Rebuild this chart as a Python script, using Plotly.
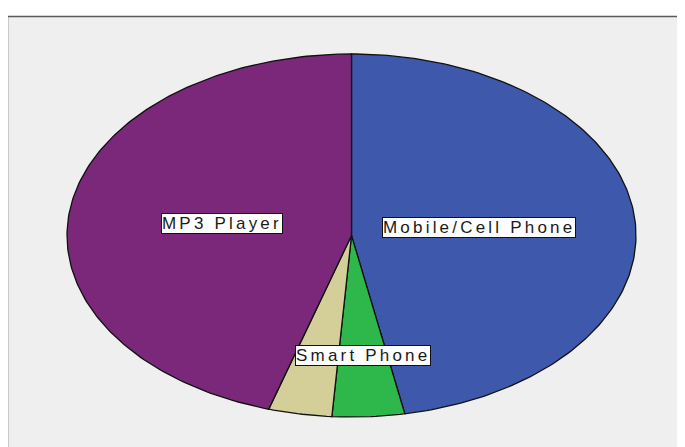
import numpy as np
import plotly.graph_objects as go

# ---- data (percent of respondents) ----
categories = ["Mobile/Cell Phone", "Smart Phone", "Other", "MP3 Player"]
percent = [47.0, 4.1, 3.6, 45.3]
show_label = [True, True, False, True]

# ---- styles ----
colors = ["#3e58ac", "#2eb84c", "#d4cf98", "#7b287b"]
label_frac = [0.45, 0.665, 0.6, 0.46]
W, H = 685, 447
PAGE_OFF = 8  # default body margin of the html page
cx, cy, rx, ry = 351.5, 235.5, 284.5, 181.5

fig = go.Figure()

total = sum(percent)
start = 0.0
for name, val, col, show, lf in zip(categories, percent, colors, show_label, label_frac):
    a0 = start / total * 2 * np.pi
    a1 = (start + val) / total * 2 * np.pi
    t = np.linspace(a0, a1, max(int(400 * val / total), 8))
    xs = np.concatenate([[cx], cx + rx * np.sin(t), [cx]])
    ys = np.concatenate([[cy], cy - ry * np.cos(t), [cy]])
    fig.add_trace(go.Scatter(
        x=xs, y=ys, mode="lines", fill="toself", fillcolor=col,
        line=dict(color="#111111", width=1.3), name=name,
        hoverinfo="text", text=f"{name}: {val}%", hoveron="fills",
        showlegend=False,
    ))
    if show:
        am = (a0 + a1) / 2
        fig.add_annotation(
            x=cx + rx * lf * np.sin(am), y=cy - ry * lf * np.cos(am),
            xref="x", yref="y", showarrow=False,
            text=f'<span style="letter-spacing:3.2px">{name}</span>',
            font=dict(family="Liberation Sans, Arial, sans-serif", size=17, color="#1a1a1a"),
            bgcolor="white", bordercolor="#111111", borderwidth=1, borderpad=0,
            xanchor="center", yanchor="middle",
        )
    start += val

fig.add_shape(type="rect", xref="x", yref="y", x0=7.5, y0=16.5, x1=W + 20, y1=H + 20,
              fillcolor="#efefef", line=dict(color="#5a5a5a", width=1.5), layer="below")

fig.update_layout(
    width=W - PAGE_OFF, height=H - PAGE_OFF, margin=dict(l=0, r=0, t=0, b=0),
    paper_bgcolor="white", plot_bgcolor="rgba(0,0,0,0)",
    xaxis=dict(range=[PAGE_OFF, W], visible=False, fixedrange=True),
    yaxis=dict(range=[H, PAGE_OFF], visible=False, fixedrange=True),
    showlegend=False,
)

fig.write_html("out.html")
